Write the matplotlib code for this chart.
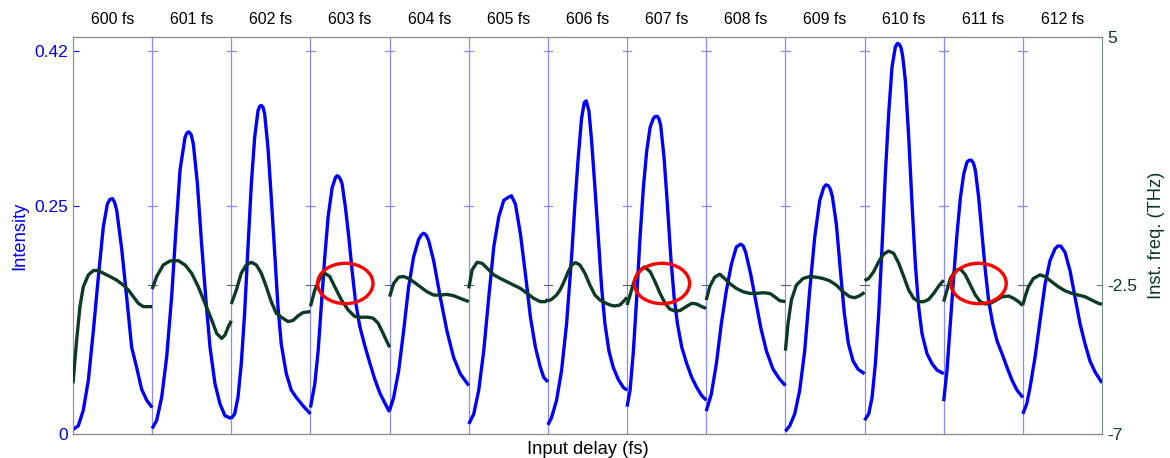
import numpy as np
import matplotlib
matplotlib.use("Agg")
import matplotlib.pyplot as plt
from matplotlib.patches import Ellipse

plt.rcParams['font.family'] = ['Liberation Sans', 'DejaVu Sans']

# ---------------- data ----------------
delays = [600, 601, 602, 603, 604, 605, 606, 607, 608, 609, 610, 611, 612]
highlighted = [603, 607, 611]

# local time within each panel (fraction of panel) and intensity
int_t = [
    [0, .067, .13, .194, .257, .32, .383, .434, .466, .497, .525, .552, .615, .678, .741, .804, .867, .931, 1.0],
    [0, .057, .12, .183, .246, .30, .352, .415, .44, .465, .493, .52, .571, .625, .68, .731, .794, .857, .92, 1.0],
    [0, .042, .084, .126, .168, .211, .253, .295, .337, .358, .379, .40, .421, .463, .505, .547, .589, .632, .695, .758, .821, .905, 1.0],
    [0, .055, .097, .139, .181, .223, .274, .316, .337, .358, .379, .40, .442, .484, .526, .568, .623, .686, .749, .813, .876, .939, 1.0],
    [0, .051, .114, .177, .24, .303, .366, .40, .43, .46, .493, .556, .64, .724, .808, .893, 1.0],
    [0, .063, .126, .189, .253, .316, .379, .442, .493, .539, .589, .653, .716, .779, .842, .905, .947, 1.0],
    [0, .046, .109, .173, .236, .299, .341, .383, .425, .459, .484, .518, .552, .594, .636, .678, .72, .771, .825, .888, .952, 1.0],
    [0, .038, .08, .122, .164, .206, .248, .291, .333, .358, .383, .404, .425, .467, .509, .552, .594, .636, .691, .754, .817, .88, .943, 1.0],
    [0, .065, .128, .191, .254, .318, .381, .435, .467, .499, .562, .625, .688, .76, .844, .928, 1.0],
    [0, .055, .118, .181, .244, .307, .371, .434, .484, .513, .543, .569, .594, .644, .695, .745, .796, .855, .918, 1.0],
    [0, .053, .095, .137, .179, .221, .263, .305, .347, .389, .415, .44, .462, .482, .516, .558, .6, .642, .684, .726, .789, .853, .916, 1.0],
    [0, .042, .084, .126, .168, .211, .253, .295, .322, .349, .375, .40, .442, .484, .526, .568, .619, .674, .737, .80, .863, .926, 1.0],
    [0, .049, .091, .154, .217, .28, .343, .407, .443, .478, .533, .596, .659, .722, .785, .848, .912, 1.0],
]
intensity = [
    [.005, .009, .026, .059, .113, .172, .227, .252, .257, .258, .254, .245, .203, .150, .095, .073, .049, .037, .029],
    [.006, .015, .040, .084, .150, .223, .289, .325, .330, .331, .328, .318, .275, .208, .146, .095, .055, .033, .020, .017],
    [.017, .022, .040, .077, .132, .205, .274, .325, .354, .359, .360, .358, .351, .314, .259, .200, .140, .098, .066, .048, .040, .031, .022],
    [.029, .055, .091, .143, .194, .238, .270, .281, .283, .282, .279, .274, .248, .216, .179, .146, .118, .097, .078, .060, .045, .034, .024],
    [.026, .040, .069, .113, .161, .194, .213, .218, .220, .218, .212, .190, .150, .113, .084, .066, .053],
    [.011, .022, .048, .091, .150, .205, .238, .256, .259, .261, .252, .219, .175, .128, .095, .073, .062, .057],
    [.010, .018, .037, .070, .121, .194, .252, .303, .346, .363, .365, .354, .321, .270, .216, .161, .121, .091, .073, .060, .051, .048],
    [.030, .048, .091, .150, .216, .270, .310, .336, .346, .348, .348, .345, .338, .303, .252, .194, .150, .121, .095, .077, .062, .051, .042, .037],
    [.025, .044, .077, .121, .157, .186, .205, .208, .206, .199, .175, .146, .117, .091, .071, .060, .053],
    [.003, .009, .022, .048, .091, .157, .216, .256, .270, .273, .272, .268, .260, .230, .179, .132, .099, .080, .071, .066],
    [.015, .022, .040, .077, .132, .205, .285, .351, .402, .424, .428, .427, .423, .414, .387, .325, .252, .186, .139, .110, .088, .077, .070, .066],
    [.036, .070, .121, .172, .219, .259, .285, .298, .300, .300, .297, .289, .259, .219, .179, .146, .121, .102, .088, .073, .059, .048, .040],
    [.022, .033, .051, .084, .124, .164, .190, .203, .206, .206, .199, .179, .150, .121, .099, .080, .068, .056],
]

# local time within each panel and instantaneous frequency (THz)
freq_t = [
    [0, .046, .088, .13, .194, .257, .32, .383, .467, .552, .636, .70, .762, .825, .888, 1.0],
    [0, .057, .141, .225, .33, .415, .499, .583, .667, .752, .815, .878, .92, .962, 1.0],
    [0, .063, .126, .189, .253, .316, .379, .442, .505, .568, .632, .716, .779, .842, .905, 1.0],
    [0, .055, .118, .181, .244, .307, .392, .476, .56, .644, .728, .792, .855, .918, 1.0],
    [0, .051, .114, .177, .24, .303, .387, .472, .556, .64, .724, .808, .893, 1.0],
    [0, .042, .105, .168, .232, .316, .40, .484, .568, .653, .737, .821, .905, .968, 1.0],
    [0, .046, .109, .152, .194, .257, .299, .349, .404, .467, .531, .594, .657, .72, .783, .846, .909, .952, 1.0],
    [0, .038, .08, .143, .219, .291, .354, .417, .48, .543, .606, .669, .733, .817, .88, .943, 1.0],
    [0, .044, .107, .17, .233, .296, .381, .465, .549, .634, .718, .802, .865, .928, 1.0],
    [0, .034, .076, .139, .223, .307, .392, .476, .56, .644, .728, .813, .876, .939, 1.0],
    [0, .053, .116, .179, .242, .305, .368, .432, .495, .558, .621, .684, .747, .811, .874, .937, 1.0],
    [0, .042, .084, .147, .211, .274, .337, .40, .463, .526, .589, .653, .737, .821, .884, .947, 1.0],
    [0, .028, .07, .133, .217, .28, .365, .449, .533, .617, .701, .785, .869, .954, 1.0],
]
inst_freq = [
    [-5.47, -4.16, -3.15, -2.55, -2.19, -2.06, -2.06, -2.14, -2.24, -2.35, -2.50, -2.65, -2.85, -3.05, -3.15, -3.15],
    [-2.62, -2.24, -1.89, -1.77, -1.76, -1.89, -2.14, -2.55, -3.05, -3.55, -3.96, -4.11, -4.01, -3.76, -3.58],
    [-3.07, -2.65, -2.14, -1.89, -1.81, -1.89, -2.14, -2.55, -3.00, -3.35, -3.47, -3.60, -3.57, -3.43, -3.33, -3.30],
    [-3.14, -2.65, -2.30, -2.14, -2.24, -2.55, -2.95, -3.25, -3.45, -3.47, -3.47, -3.50, -3.65, -3.96, -4.38],
    [-2.85, -2.45, -2.26, -2.24, -2.30, -2.40, -2.55, -2.70, -2.80, -2.80, -2.78, -2.82, -2.90, -3.00],
    [-2.60, -2.04, -1.81, -1.84, -1.99, -2.19, -2.30, -2.40, -2.50, -2.60, -2.75, -2.90, -3.00, -3.00, -2.93],
    [-2.98, -2.93, -2.80, -2.65, -2.45, -2.09, -1.89, -1.82, -1.89, -2.14, -2.50, -2.80, -2.95, -3.03, -3.10, -3.13, -3.10, -3.00, -2.87],
    [-3.10, -2.80, -2.45, -2.09, -1.95, -2.09, -2.40, -2.75, -3.05, -3.23, -3.28, -3.27, -3.17, -3.05, -3.07, -3.15, -3.20],
    [-2.95, -2.55, -2.26, -2.17, -2.30, -2.45, -2.60, -2.70, -2.75, -2.75, -2.73, -2.75, -2.85, -2.97, -3.00],
    [-4.48, -3.65, -2.95, -2.50, -2.30, -2.24, -2.26, -2.30, -2.37, -2.50, -2.70, -2.85, -2.88, -2.82, -2.72],
    [-2.36, -2.30, -2.09, -1.79, -1.56, -1.47, -1.54, -1.84, -2.24, -2.65, -2.90, -3.00, -3.00, -2.93, -2.75, -2.53, -2.35],
    [-3.00, -2.65, -2.30, -2.06, -2.01, -2.19, -2.50, -2.80, -3.00, -3.07, -3.05, -2.97, -2.85, -2.83, -2.90, -3.00, -3.12],
    [-3.10, -2.85, -2.55, -2.30, -2.19, -2.24, -2.40, -2.55, -2.67, -2.75, -2.80, -2.85, -2.95, -3.05, -3.08],
]

int_ticks = [0, 0.25, 0.42]
freq_ticks = [-7, -2.5, 5]

# ---------------- style ----------------
BLUE = '#0000ff'
GREEN = '#0b3b24'
DIV = '#8a8aff'

fig = plt.figure(figsize=(11.7, 4.58), dpi=100)
ax = fig.add_axes([73 / 1170, 1 - 434 / 458, (1102 - 73) / 1170, (434 - 37) / 458])
ax2 = ax.twinx()

n = len(delays)
ax.set_xlim(0, n)
ax.set_ylim(0, 0.435)
ax2.set_ylim(-7, 5)

for k in range(n):
    x = [k + t for t in int_t[k]]
    ax.plot(x, intensity[k], color=BLUE, lw=2.4, solid_capstyle='butt',
            solid_joinstyle='round', zorder=3)
    xf = [k + t for t in freq_t[k]]
    ax2.plot(xf, inst_freq[k], color=GREEN, lw=2.4, solid_capstyle='butt',
             solid_joinstyle='round', zorder=3)
    ax.text(k + 0.5, 1.025, f'{delays[k]} fs', transform=ax.get_xaxis_transform(),
            ha='center', va='bottom', fontsize=11.4, color='black')

# panel dividers with small tick marks
for k in range(1, n):
    ax.axvline(k, color=DIV, lw=0.9, zorder=1)
    for yv in int_ticks[1:]:
        ax.plot([k - 0.055, k + 0.055], [yv, yv], color=DIV, lw=0.9, zorder=1)
    ax2.plot([k - 0.055, k + 0.055], [freq_ticks[1]] * 2, color='#606060', lw=0.8, zorder=1)

# red ellipses on highlighted panels
for d in highlighted:
    k = delays.index(d)
    ax2.add_patch(Ellipse((k + 0.44, -2.45), 0.70, 1.22, fill=False,
                          edgecolor='#ff0000', lw=2.4, zorder=5))

ax.set_xticks([])
ax.set_yticks(int_ticks)
ax.set_yticklabels(['0', '0.25', '0.42'])
ax.tick_params(axis='y', colors=BLUE, labelsize=12.5, direction='in', length=4, width=0.8)
ax2.set_yticks(freq_ticks)
ax2.set_yticklabels(['-7', '-2.5', '5'])
ax2.tick_params(axis='y', colors='#5f7f6f', labelcolor=GREEN, labelsize=12.5,
                direction='in', length=4, width=0.8)

for s in ['top', 'bottom', 'left']:
    ax.spines[s].set_color('#888888')
    ax2.spines[s].set_color('#888888')
ax2.spines['right'].set_color('#6f8f7f')
ax.spines['right'].set_visible(False)
ax2.spines['left'].set_color('#8888ee')

ax.set_ylabel('Intensity', color=BLUE, fontsize=13.2, labelpad=4)
ax2.set_ylabel('Inst. freq. (THz)', color=GREEN, fontsize=13.2, labelpad=8)
ax.set_xlabel('Input delay (fs)', fontsize=13.2, labelpad=5)

fig.savefig('out.png', dpi=100)
